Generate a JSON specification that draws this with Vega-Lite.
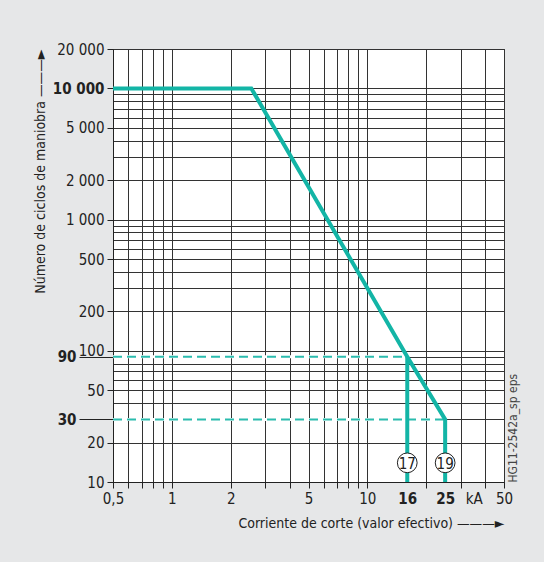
{
  "$schema": "https://vega.github.io/schema/vega-lite/v6.json",
  "width": 391,
  "height": 433,
  "autosize": {"type": "none"},
  "padding": {"left": 113, "top": 49, "right": 40, "bottom": 80},
  "background": "#e6e7e8",
  "config": {
    "view": {"fill": "white", "stroke": "#222", "strokeWidth": 1},
    "font": "Liberation Sans Narrow, DejaVu Sans Condensed, sans-serif"
  },
  "datasets": {
    "curve": [
      {"series": "A", "i": 1, "x": 0.5, "y": 10000},
      {"series": "A", "i": 2, "x": 2.55, "y": 10000},
      {"series": "A", "i": 3, "x": 16, "y": 90},
      {"series": "A", "i": 4, "x": 25, "y": 30},
      {"series": "A", "i": 5, "x": 25, "y": 10},
      {"series": "B", "i": 1, "x": 16, "y": 90},
      {"series": "B", "i": 2, "x": 16, "y": 10}
    ],
    "refs": [
      {"level": "90", "x": 0.5, "y": 90},
      {"level": "90", "x": 16, "y": 90},
      {"level": "30", "x": 0.5, "y": 30},
      {"level": "30", "x": 25, "y": 30}
    ],
    "markers": [
      {"x": 16, "y": 14, "label": "17"},
      {"x": 25, "y": 14, "label": "19"}
    ]
  },
  "resolve": {"axis": {"y": "independent"}},
  "layer": [
    {
      "data": {"name": "refs"},
      "mark": {"type": "line", "color": "white", "strokeWidth": 3},
      "encoding": {
        "x": {
          "field": "x", "type": "quantitative",
          "scale": {"type": "log", "domain": [0.5, 50], "nice": false},
          "axis": {
            "values": [0.5, 0.6, 0.7, 0.8, 0.9, 1, 2, 3, 4, 5, 6, 7, 8, 9, 10, 16, 20, 25, 30, 35, 40, 50],
            "labelExpr": "datum.value == 0.5 ? '0,5' : datum.value == 35 ? 'kA' : indexof([1, 2, 5, 10, 16, 25, 50], datum.value) >= 0 ? '' + datum.value : ''",
            "labelFlush": false,
            "labelOverlap": false,
            "labelBound": false,
            "labelFontSize": 15,
            "labelColor": "#222",
            "labelPadding": 3,
            "labelFontWeight": {"condition": {"test": "datum.value == 16 || datum.value == 25", "value": "bold"}, "value": "normal"},
            "tickSize": 6,
            "tickColor": "#222",
            "tickOpacity": {"condition": {"test": "datum.value == 16 || datum.value == 25 || datum.value == 35", "value": 0}, "value": 1},
            "grid": true,
            "gridColor": "#333",
            "gridWidth": 1,
            "gridOpacity": {"condition": {"test": "datum.value == 16 || datum.value == 25 || datum.value == 35", "value": 0}, "value": 1},
            "domainColor": "#222",
            "title": "Corriente de corte (valor efectivo)    ———►",
            "titleAnchor": "end",
            "titleFontSize": 14,
            "titleFontWeight": "normal",
            "titleColor": "#222",
            "titlePadding": 10
          }
        },
        "y": {
          "field": "y", "type": "quantitative",
          "scale": {"type": "log", "domain": [10, 20000], "nice": false},
          "axis": {
            "values": [10, 20, 30, 40, 50, 60, 70, 80, 90, 100, 200, 300, 400, 500, 600, 700, 800, 900, 1000, 2000, 3000, 4000, 5000, 6000, 7000, 8000, 9000, 10000, 20000],
            "labelExpr": "indexof([10, 20, 30, 50, 90, 100, 200, 500], datum.value) >= 0 ? '' + datum.value : indexof([1000, 2000, 5000, 10000, 20000], datum.value) >= 0 ? format(datum.value / 1000, 'd') + ' 000' : ''",
            "labelFlush": false,
            "labelOverlap": false,
            "labelBound": false,
            "labelFontSize": 15,
            "labelColor": "#222",
            "labelPadding": 3,
            "labelFontWeight": {"condition": {"test": "datum.value == 10000 || datum.value == 90 || datum.value == 30", "value": "bold"}, "value": "normal"},
            "tickSize": {"condition": {"test": "datum.value == 90 || datum.value == 30", "value": 34}, "value": 6},
            "tickColor": "#222",
            "tickOpacity": {"condition": {"test": "indexof([10, 20, 30, 50, 90, 100, 200, 500, 1000, 2000, 5000, 10000, 20000], datum.value) >= 0", "value": 1}, "value": 0},
            "grid": true,
            "gridColor": "#333",
            "gridWidth": 1,
            "domainColor": "#222",
            "title": "Número de ciclos de maniobra   ———►",
            "titleAnchor": "end",
            "titleFontSize": 14,
            "titleFontWeight": "normal",
            "titleColor": "#222",
            "titlePadding": 5
          }
        },
        "detail": {"field": "level"}
      }
    },
    {
      "data": {"name": "refs"},
      "mark": {"type": "line", "color": "#2bbcae", "strokeWidth": 2, "strokeDash": [9, 5]},
      "encoding": {
        "x": {"field": "x", "type": "quantitative", "scale": {"type": "log", "domain": [0.5, 50], "nice": false}},
        "y": {"field": "y", "type": "quantitative", "scale": {"type": "log", "domain": [10, 20000], "nice": false}, "axis": null},
        "detail": {"field": "level"}
      }
    },
    {
      "data": {"name": "curve"},
      "mark": {"type": "line", "color": "#13b5a6", "strokeWidth": 4},
      "encoding": {
        "x": {"field": "x", "type": "quantitative", "scale": {"type": "log", "domain": [0.5, 50], "nice": false}},
        "y": {"field": "y", "type": "quantitative", "scale": {"type": "log", "domain": [10, 20000], "nice": false}, "axis": null},
        "detail": {"field": "series"},
        "order": {"field": "i"}
      }
    },
    {
      "data": {"name": "markers"},
      "mark": {"type": "point", "filled": false, "fill": "white", "fillOpacity": 1, "stroke": "#222", "strokeWidth": 1, "size": 390, "shape": "circle", "opacity": 1},
      "encoding": {
        "x": {"field": "x", "type": "quantitative", "scale": {"type": "log", "domain": [0.5, 50], "nice": false}},
        "y": {"field": "y", "type": "quantitative", "scale": {"type": "log", "domain": [10, 20000], "nice": false}, "axis": null}
      }
    },
    {
      "data": {"name": "markers"},
      "mark": {"type": "text", "fontSize": 15, "color": "#222", "align": "center", "baseline": "middle", "dy": 1},
      "encoding": {
        "x": {"field": "x", "type": "quantitative", "scale": {"type": "log", "domain": [0.5, 50], "nice": false}},
        "y": {"field": "y", "type": "quantitative", "scale": {"type": "log", "domain": [10, 20000], "nice": false}, "axis": null},
        "text": {"field": "label"}
      }
    },
    {
      "data": {"name": "markers"},
      "mark": {"type": "point", "opacity": 0},
      "encoding": {
        "x": {"field": "x", "type": "quantitative", "scale": {"type": "log", "domain": [0.5, 50], "nice": false}},
        "y": {
          "field": "y", "type": "quantitative",
          "scale": {"type": "log", "domain": [10, 20000], "nice": false},
          "axis": {
            "orient": "right",
            "labels": false,
            "ticks": false,
            "domain": false,
            "grid": false,
            "title": "HG11-2542a_sp eps",
            "titleAnchor": "start",
            "titleAngle": 270,
            "titleAlign": "left",
            "titleFontSize": 12,
            "titleFontWeight": "normal",
            "titleColor": "#444",
            "titlePadding": 15
          }
        }
      }
    }
  ]
}
